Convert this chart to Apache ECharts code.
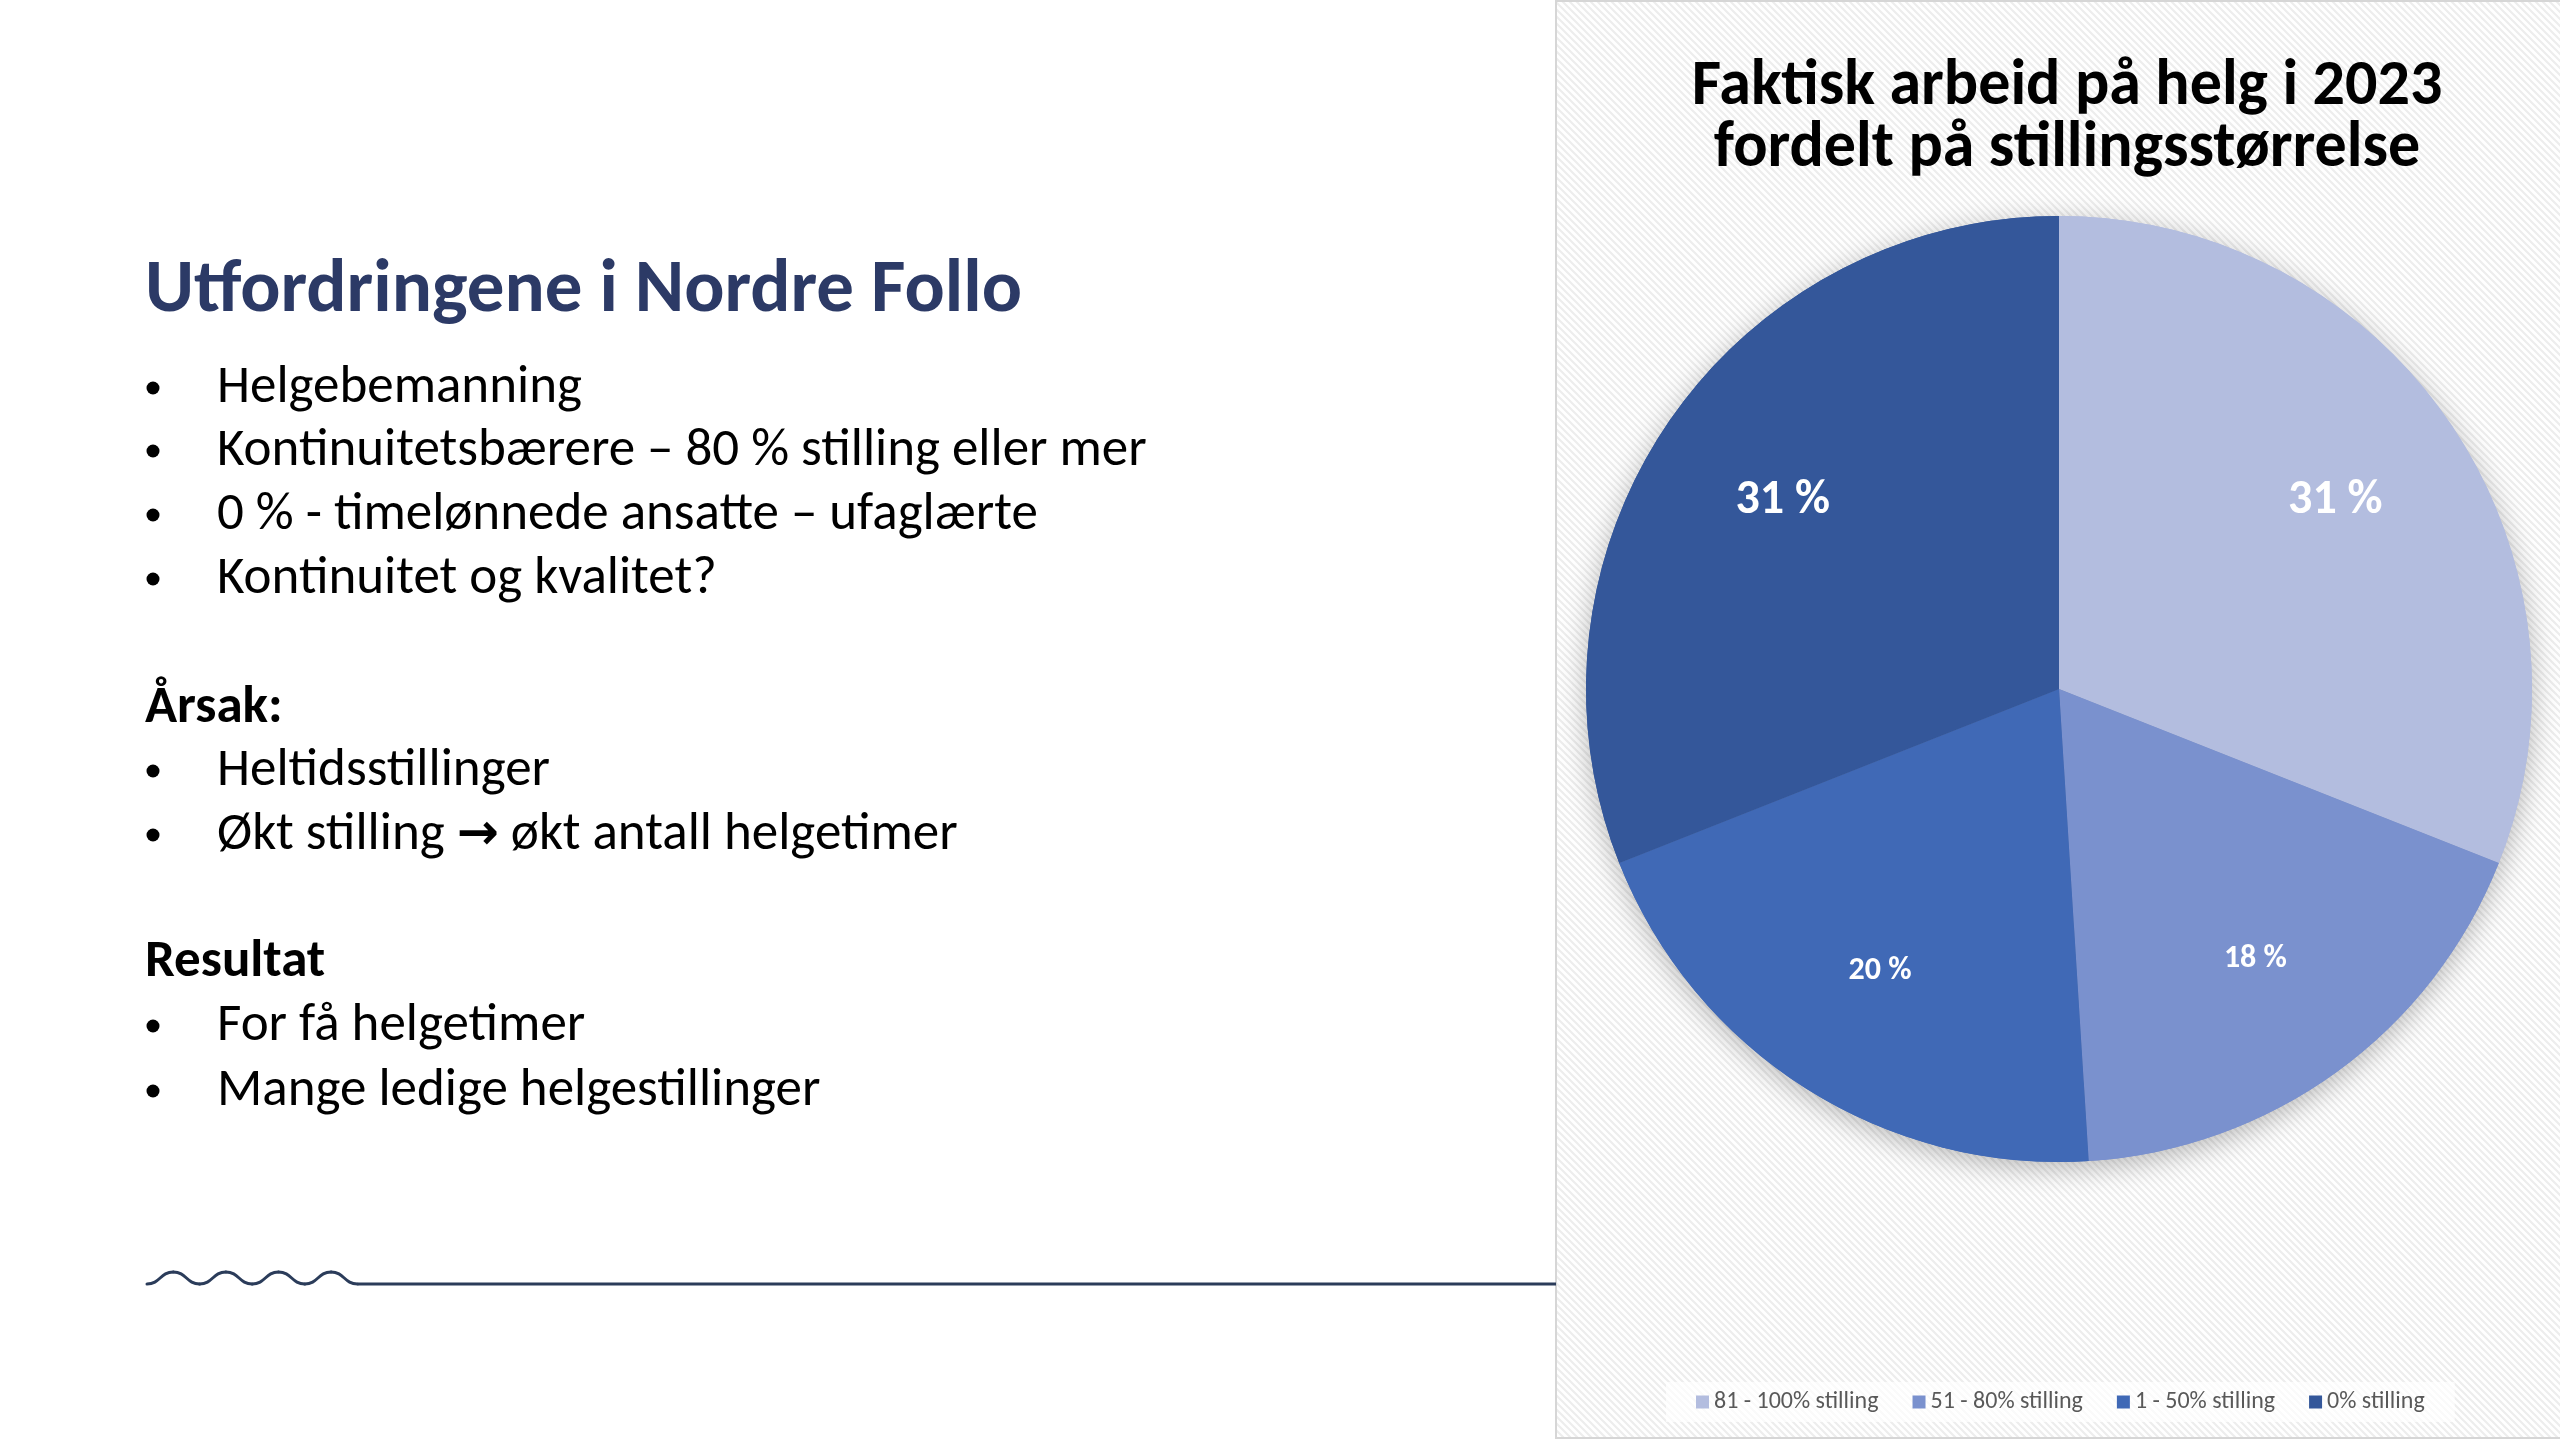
<!DOCTYPE html>
<html>
<head>
<meta charset="utf-8">
<script src="https://cdn.jsdelivr.net/npm/echarts@6/dist/echarts.min.js"></script>
<style>
html,body{margin:0;padding:0;background:#fff;}
#chart{width:2560px;height:1440px;}
</style>
</head>
<body>
<div id="chart"></div>
<script>
// ---- data ----
const categories = ['81 - 100% stilling', '51 - 80% stilling', '1 - 50% stilling', '0% stilling'];
const shares = [31, 18, 20, 31];
const chartTitle = 'Faktisk arbeid på helg i 2023\nfordelt på stillingsstørrelse';
const slideTitle = 'Utfordringene i Nordre Follo';
const bullets1 = ['Helgebemanning', 'Kontinuitetsbærere – 80 % stilling eller mer', '0 % - timelønnede ansatte – ufaglærte', 'Kontinuitet og kvalitet?'];
const heading2 = 'Årsak:';
const bullets2 = ['Heltidsstillinger', 'Økt stilling → økt antall helgetimer'];
const heading3 = 'Resultat';
const bullets3 = ['For få helgetimer', 'Mange ledige helgestillinger'];

// ---- style ----
const colors = ['#B3BDDF', '#7A91CE', '#4069B6', '#34579A'];
const FONT = 'Carlito, Lato, "Open Sans", sans-serif';
const PANEL_X = 1556;
const CX = 2059, CY = 689, R = 473;

function stripeCanvas() {
  const s = 7;
  const c = document.createElement('canvas');
  c.width = s; c.height = s;
  const g = c.getContext('2d');
  g.fillStyle = '#ffffff'; g.fillRect(0, 0, s, s);
  g.strokeStyle = '#ededed'; g.lineWidth = 2.2;
  g.beginPath();
  g.moveTo(-2, -2); g.lineTo(s + 2, s + 2);
  g.moveTo(-2, s - 2); g.lineTo(2, s + 2);
  g.moveTo(s - 2, -2); g.lineTo(s + 2, 2);
  g.stroke();
  return c;
}

const graphics = [];
graphics.push({
  type: 'rect', z: 0, silent: true,
  shape: { x: PANEL_X, y: 1, width: 2560 - PANEL_X + 2, height: 1437 },
  style: { fill: { image: stripeCanvas(), repeat: 'repeat' }, stroke: '#d6d6d6', lineWidth: 2 }
});
// decorative wave line
(function () {
  const x0 = 147, base = 1284, amp = 12, half = 26.3;
  let x = x0, up = true;
  for (let i = 0; i < 8; i++) {
    const nx = x + half, ny = up ? base - amp : base, py = up ? base : base - amp;
    graphics.push({
      type: 'bezierCurve', z: 1, silent: true,
      shape: { x1: x, y1: py, cpx1: x + half / 2, cpy1: py, cpx2: nx - half / 2, cpy2: ny, x2: nx, y2: ny },
      style: { fill: null, stroke: '#2B3C5A', lineWidth: 3, lineCap: 'round' }
    });
    x = nx; up = !up;
  }
  graphics.push({
    type: 'line', z: 1, silent: true,
    shape: { x1: x, y1: base, x2: PANEL_X, y2: base },
    style: { stroke: '#2B3C5A', lineWidth: 3 }
  });
})();
function txt(t, x, y, size, weight, color) {
  const hasArrow = t.indexOf('→') >= 0;
  const style = { fontFamily: FONT, fontSize: size, fontWeight: weight, fill: color,
    align: 'left', verticalAlign: 'middle' };
  if (hasArrow) {
    const parts = t.split('→');
    style.text = '{n|' + parts[0] + '}{a|→}{n|' + parts[1] + '}';
    style.rich = {
      n: { fontFamily: FONT, fontSize: size, fontWeight: weight, fill: color },
      a: { fontFamily: '"DejaVu Sans", sans-serif', fontSize: size * 0.95, fontWeight: 'bold', fill: color }
    };
  } else {
    style.text = t;
  }
  graphics.push({ type: 'text', x: x, y: y, z: 1, silent: true, style: style });
}
function bullet(y) {
  graphics.push({
    type: 'circle', z: 1, silent: true,
    shape: { cx: 153, cy: y, r: 6.5 }, style: { fill: '#000' }
  });
}
txt(slideTitle, 145, 292, 75, 'bold', '#2C3A66');
const textX = 217, fs = 53;
const ys1 = [389, 452, 516, 580];
bullets1.forEach((b, i) => { bullet(ys1[i] - 1); txt(b, textX, ys1[i], fs, 'normal', '#000'); });
txt(heading2, 145, 709, fs, 'bold', '#000');
const ys2 = [772, 836];
bullets2.forEach((b, i) => { bullet(ys2[i] - 1); txt(b, textX, ys2[i], fs, 'normal', '#000'); });
txt(heading3, 145, 963, fs, 'bold', '#000');
const ys3 = [1027, 1092];
bullets3.forEach((b, i) => { bullet(ys3[i] - 1); txt(b, textX, ys3[i], fs, 'normal', '#000'); });

const pieData = categories.map((n, i) => ({ name: n, value: shares[i] }));

const chart = echarts.init(document.getElementById('chart'), null, { renderer: 'canvas' });
chart.setOption({
  backgroundColor: '#ffffff',
  animation: false,
  color: colors,
  title: {
    text: chartTitle, left: 2062, top: 52, textAlign: 'center',
    textStyle: { fontFamily: FONT, fontSize: 64, fontWeight: 'bold', color: '#000', lineHeight: 62 }
  },
  legend: {
    data: categories, left: 1666, top: 1382,
    icon: 'rect', itemWidth: 13, itemHeight: 13, itemGap: 34,
    padding: [8, 30], backgroundColor: 'rgba(255,255,255,0.7)',
    textStyle: { fontFamily: FONT, fontSize: 24, color: '#595959' }
  },
  graphic: graphics,
  series: [
    {
      type: 'pie', name: 'shadow', center: [CX, CY], radius: [0, R], startAngle: 90, clockwise: true,
      silent: true, z: 2, data: pieData, label: { show: false }, labelLine: { show: false },
      itemStyle: { shadowBlur: 28, shadowColor: 'rgba(0,0,0,0.28)', shadowOffsetY: 6 }
    },
    {
      type: 'pie', name: 'Andel', center: [CX, CY], radius: [0, R], startAngle: 90, clockwise: true,
      z: 3, data: pieData, label: { show: false }, labelLine: { show: false },
      itemStyle: { borderWidth: 0 }, emphasis: { disabled: true }
    },
    {
      type: 'pie', name: 'labels', center: [CX, CY], radius: [R * 0.4, R], startAngle: 90, clockwise: true,
      silent: true, z: 4, data: pieData.map(d => ({
        name: d.name, value: d.value,
        label: { fontSize: d.value >= 25 ? 48 : 32 }
      })),
      itemStyle: { color: 'rgba(0,0,0,0)' },
      labelLine: { show: false },
      label: { show: true, position: 'inside', formatter: '{c} %', color: '#fff', fontWeight: 'bold', fontFamily: FONT }
    }
  ]
});
</script>
</body>
</html>
